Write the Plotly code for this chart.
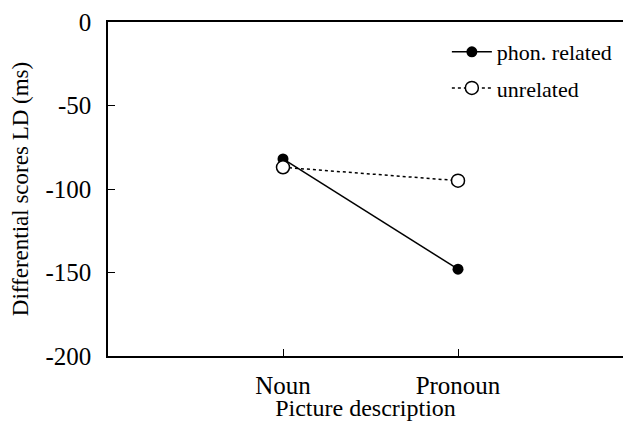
import plotly.graph_objects as go

categories = ["Noun", "Pronoun"]
cat_pos = [1, 2]
phon_related = [-82, -148]
unrelated = [-87, -95]
y_ticks = [0, -50, -100, -150, -200]
y_ticklabels = ["0", "-50", "-100", "-150", "-200"]

FONT = "Liberation Serif"

fig = go.Figure()
fig.add_trace(go.Scatter(
    x=cat_pos, y=phon_related, mode="lines+markers", name="phon. related",
    line=dict(color="black", width=1.5),
    marker=dict(symbol="circle", size=11, color="black"),
    legend="legend",
))
fig.add_trace(go.Scatter(
    x=cat_pos, y=unrelated, mode="lines+markers", name="unrelated",
    line=dict(color="black", width=1.5, dash="dot"),
    marker=dict(symbol="circle", size=13, color="white", line=dict(width=1.5, color="black")),
    legend="legend2",
))

leg_common = dict(xanchor="left", yanchor="middle",
                  font=dict(family=FONT, size=22, color="black"),
                  bgcolor="rgba(0,0,0,0)", itemwidth=40)

fig.update_layout(
    width=623, height=421,
    margin=dict(l=108, r=0, t=22, b=65, autoexpand=False),
    paper_bgcolor="white", plot_bgcolor="white",
    font=dict(family=FONT, size=24, color="black"),
    showlegend=True,
    legend=dict(x=0.658, y=0.91, **leg_common),
    legend2=dict(x=0.658, y=0.802, **leg_common),
    xaxis=dict(
        range=[0, 515/175], tickvals=cat_pos, ticktext=categories,
        showgrid=False, zeroline=False, showline=True, linecolor="black", linewidth=1.5,
        mirror=True, ticks="inside", ticklen=7, tickcolor="black", tickwidth=1,
        automargin=False, ticklabelstandoff=6,
        title=dict(text="Picture description", standoff=3, font=dict(family=FONT, size=24)),
        tickfont=dict(family=FONT, size=25),
    ),
    yaxis=dict(
        range=[-200, 0], tickvals=y_ticks, ticktext=y_ticklabels,
        showgrid=False, zeroline=False, showline=True, linecolor="black", linewidth=1.5,
        mirror=False, ticks="inside", ticklen=7, tickcolor="black", tickwidth=1,
        automargin=False, ticklabelstandoff=10,
        title=dict(text="Differential scores LD (ms)", standoff=10, font=dict(family=FONT, size=23)),
        tickfont=dict(family=FONT, size=25),
    ),
)

fig.write_html("out.html", config={"displayModeBar": False},
               post_script="document.body.style.margin='0';document.body.style.overflow='hidden';")
